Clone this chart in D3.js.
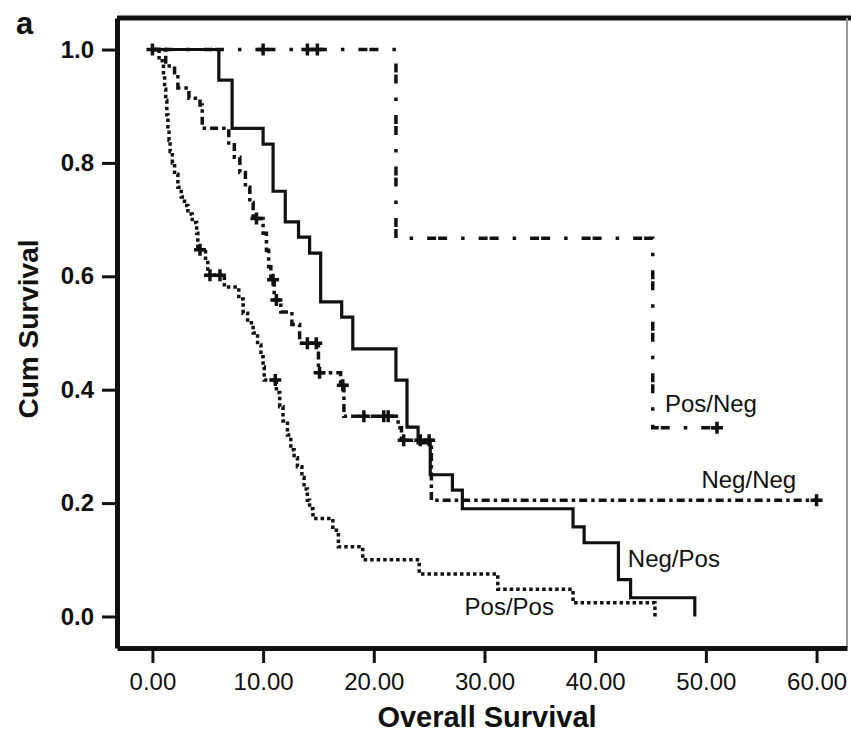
<!DOCTYPE html>
<html>
<head>
<meta charset="utf-8">
<script src="https://cdn.jsdelivr.net/npm/d3@7"></script>
<style>
  body { margin: 0; background: #fff; }
  svg { display: block; font-family: "Liberation Sans", Arial, sans-serif; }
</style>
</head>
<body>
<svg id="chart" width="851" height="733"></svg>
<script>
// Kaplan-Meier curves (time in months, cumulative survival)
const negPosTimes = [0, 6.0, 7.2, 10.0, 10.9, 12.0, 13.2, 14.2, 15.2, 17.1, 18.1, 22.0, 23.0, 24.0, 25.1, 27.1, 28.0, 38.0, 39.0, 42.1, 43.2, 49.0];
const negPosSurv  = [1.0, 0.946, 0.861, 0.833, 0.75, 0.696, 0.669, 0.641, 0.555, 0.528, 0.472, 0.417, 0.334, 0.306, 0.25, 0.223, 0.19, 0.158, 0.13, 0.065, 0.033, 0];
const negPosCensor = [];
const negPosEnd = 49.0;

const negNegTimes = [0, 1.2, 2.0, 2.3, 3.3, 4.3, 4.5, 6.9, 7.4, 7.9, 8.4, 8.8, 9.1, 10.0, 10.3, 10.5, 10.7, 11.0, 11.6, 12.6, 13.3, 15.0, 17.0, 17.3, 22.2, 22.5, 25.2];
const negNegSurv  = [1.0, 0.971, 0.955, 0.932, 0.914, 0.902, 0.861, 0.835, 0.81, 0.783, 0.757, 0.73, 0.702, 0.676, 0.646, 0.617, 0.594, 0.558, 0.537, 0.515, 0.482, 0.43, 0.408, 0.353, 0.333, 0.311, 0.205];
const negNegCensor = [9.4, 10.9, 11.2, 14.0, 14.8, 15.1, 17.2, 19.1, 20.9, 21.3, 22.7, 24.2, 25.0, 60.0];
const negNegEnd = 60.0;

const posNegTimes = [0, 22.0, 45.2];
const posNegSurv  = [1.0, 0.667, 0.333];
const posNegCensor = [0, 10.0, 14.0, 14.9, 51.0];
const posNegEnd = 51.0;

const posPosTimes = [0, 0.6, 1.0, 1.1, 1.2, 1.3, 1.4, 1.5, 1.6, 1.8, 2.0, 2.3, 2.6, 2.9, 3.2, 3.6, 4.0, 4.1, 4.8, 5.0, 6.5, 7.8, 8.2, 8.6, 9.1, 9.5, 9.8, 10.0, 10.1, 11.2, 11.5, 11.8, 12.2, 12.5, 12.8, 13.1, 13.5, 13.7, 14.0, 14.2, 14.5, 16.3, 16.8, 19.0, 24.1, 31.2, 38.0, 45.4];
const posPosSurv  = [1.0, 0.98, 0.955, 0.93, 0.91, 0.885, 0.86, 0.84, 0.82, 0.80, 0.78, 0.757, 0.74, 0.725, 0.71, 0.695, 0.676, 0.647, 0.632, 0.602, 0.581, 0.56, 0.535, 0.518, 0.50, 0.479, 0.458, 0.44, 0.417, 0.395, 0.37, 0.345, 0.32, 0.294, 0.28, 0.264, 0.245, 0.225, 0.205, 0.19, 0.173, 0.152, 0.123, 0.10, 0.075, 0.048, 0.024, 0];
const posPosCensor = [4.3, 5.2, 6.1, 11.1];
const posPosEnd = 45.4;

// curve labels, anchored in data units (time, survival)
const labelNames = ['Pos/Neg', 'Neg/Neg', 'Neg/Pos', 'Pos/Pos'];
const labelTimes = [46.3, 49.6, 42.95, 28.2];
const labelSurv  = [0.361, 0.227, 0.087, 0.003];

const xTicks = [0, 10, 20, 30, 40, 50, 60];
const yTicks = [0, 0.2, 0.4, 0.6, 0.8, 1.0];

const svg = d3.select('#chart');

// scales: frame runs a little past the data on every side
const x = d3.scaleLinear().domain([-3.2, 62.75]).range([117, 847]);
const y = d3.scaleLinear().domain([-0.0556, 1.0556]).range([648, 18]);

// frame (top and right)
svg.append('line')
  .attr('x1', x.range()[0]).attr('x2', 851)
  .attr('y1', y.range()[1]).attr('y2', y.range()[1])
  .attr('stroke', '#111').attr('stroke-width', 5);
svg.append('line')
  .attr('x1', x.range()[1]).attr('x2', x.range()[1])
  .attr('y1', y.range()[1]).attr('y2', y.range()[0])
  .attr('stroke', '#999').attr('stroke-width', 2);

// axes
const yAxis = svg.append('g')
  .attr('transform', `translate(${x.range()[0]},0)`)
  .call(d3.axisLeft(y).tickValues(yTicks).tickFormat(d3.format('.1f')).tickSize(15).tickSizeOuter(0).tickPadding(8));
yAxis.select('.domain').attr('stroke', '#111').attr('stroke-width', 5);
yAxis.selectAll('.tick line').attr('stroke', '#111').attr('stroke-width', 3);
yAxis.selectAll('.tick text')
  .attr('fill', '#111')
  .style('font-size', '24px')
  .style('font-weight', 'bold')
  .style('font-family', '"Liberation Sans", Arial, sans-serif');

const xAxis = svg.append('g')
  .attr('transform', `translate(0,${y.range()[0]})`)
  .call(d3.axisBottom(x).tickValues(xTicks).tickFormat(d3.format('.2f')).tickSize(15).tickSizeOuter(0).tickPadding(10));
xAxis.select('.domain').attr('stroke', '#111').attr('stroke-width', 5);
xAxis.selectAll('.tick line').attr('stroke', '#111').attr('stroke-width', 3);
xAxis.selectAll('.tick text')
  .attr('fill', '#111')
  .style('font-size', '24px')
  .style('font-family', '"Liberation Sans", Arial, sans-serif');

// axis titles
svg.append('text')
  .attr('x', 487).attr('y', 727)
  .attr('text-anchor', 'middle')
  .style('font-size', '29px').style('font-weight', 'bold')
  .attr('fill', '#111')
  .text('Overall Survival');

svg.append('text')
  .attr('transform', 'translate(38,329) rotate(-90)')
  .attr('text-anchor', 'middle')
  .style('font-size', '28px').style('font-weight', 'bold')
  .attr('fill', '#111')
  .text('Cum Survival');

svg.append('text')
  .attr('x', 16).attr('y', 34)
  .style('font-size', '31px').style('font-weight', 'bold')
  .attr('fill', '#111')
  .text('a');

// curves
const series = [
  { times: negPosTimes, surv: negPosSurv, censor: negPosCensor, end: negPosEnd, dash: null, width: 3.2 },
  { times: negNegTimes, surv: negNegSurv, censor: negNegCensor, end: negNegEnd, dash: '8,4,3.5,4', width: 3.5 },
  { times: posNegTimes, surv: posNegSurv, censor: posNegCensor, end: posNegEnd, dash: '9,2,9,14,3.5,14', width: 3.5 },
  { times: posPosTimes, surv: posPosSurv, censor: posPosCensor, end: posPosEnd, dash: '3.5,3', width: 3.5 }
];

const line = d3.line()
  .x(d => x(d[0]))
  .y(d => y(d[1]))
  .curve(d3.curveStepAfter);

function survAt(s, t) {
  const i = d3.bisectRight(s.times, t) - 1;
  return s.surv[Math.max(0, i)];
}

series.forEach(s => {
  const pts = s.times.map((t, i) => [t, s.surv[i]]);
  const last = pts[pts.length - 1];
  if (last[0] < s.end) pts.push([s.end, last[1]]);

  svg.append('path')
    .attr('d', line(pts))
    .attr('fill', 'none')
    .attr('stroke', '#111')
    .attr('stroke-width', s.width)
    .attr('stroke-dasharray', s.dash);

  // censor marks
  svg.append('g').selectAll('path')
    .data(s.censor)
    .enter().append('path')
    .attr('d', d => {
      const cx = x(d), cy = y(survAt(s, d));
      return `M${cx - 6},${cy}H${cx + 6}M${cx},${cy - 6}V${cy + 6}`;
    })
    .attr('stroke', '#111')
    .attr('stroke-width', 3.5);
});

// curve labels
svg.append('g').selectAll('text')
  .data(labelNames)
  .enter().append('text')
  .attr('x', (d, i) => x(labelTimes[i]))
  .attr('y', (d, i) => y(labelSurv[i]))
  .style('font-size', '24px')
  .attr('fill', '#111')
  .text(d => d);
</script>
</body>
</html>
